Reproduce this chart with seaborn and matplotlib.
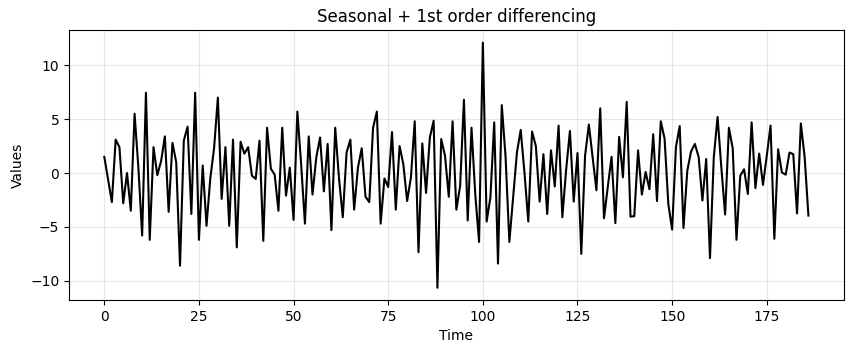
import numpy as np
import pandas as pd
import matplotlib
matplotlib.use("Agg")
import matplotlib.pyplot as plt
import seaborn as sns

# differenced series
values = [
    1.5, -0.6, -2.7, 3.1, 2.4, -2.8, 0.0, -3.5, 5.5, 0.5,
    -5.8, 7.45, -6.2, 2.4, -0.2, 1.1, 3.4, -3.6, 2.8, 1.0,
    -8.6, 3.0, 4.3, -3.8, 7.45, -6.2, 0.7, -4.9, -0.5, 2.3,
    7.0, -2.4, 2.4, -4.9, 3.1, -6.9, 2.9, 1.8, 2.4, -0.25,
    -0.55, 3.0, -6.3, 4.2, 0.4, -0.15, -3.5, 4.2, -2.1, 0.5,
    -4.35, 5.7, 0.8, -4.7, 3.4, -2.0, 1.45, 3.3, -1.7, 2.7,
    -5.3, 4.2, -0.5, -4.1, 1.9, 3.1, -3.4, 0.5, 2.3, -2.2,
    -2.7, 4.2, 5.7, -4.7, -0.5, -1.3, 3.8, -3.4, 2.5, 0.8,
    -2.6, -0.4, 4.8, -7.35, 2.75, -1.85, 3.3, 4.85, -10.65, 3.15,
    1.6, -2.2, 4.8, -3.4, -1.2, 6.8, -4.4, 4.2, -2.0, -6.4,
    12.1, -4.5, -2.25, 4.7, -8.4, 6.3, 1.5, -6.4, -2.25, 1.9,
    4.0, 0.0, -4.5, 3.85, 2.5, -2.65, 1.75, -3.8, 2.1, -1.25,
    4.4, -4.1, 0.3, 3.9, -2.65, 1.85, -7.5, 1.6, 4.5, 1.45,
    -1.6, 6.0, -4.2, -1.3, 1.5, -4.65, 3.35, -0.4, 6.6, -4.05,
    -4.0, 2.1, -2.0, 0.1, -1.5, 3.6, -2.6, 4.8, 3.2, -2.9,
    -5.25, 2.4, 4.35, -5.1, 0.2, 2.0, 2.7, 1.5, -2.55, 1.3,
    -7.9, 1.45, 5.2, 0.5, -3.85, 4.2, 2.3, -6.2, -0.25, 0.35,
    -1.95, 4.7, -1.4, 1.8, -1.1, 1.6, 4.4, -6.1, 2.2, 0.05,
    -0.15, 1.9, 1.75, -3.75, 4.6, 1.5, -3.95,
]
time = np.arange(len(values))

df = pd.DataFrame({"Time": time, "Values": values})

fig, ax = plt.subplots(figsize=(8.53, 3.53), dpi=100)
fig.subplots_adjust(left=0.081, right=0.989, top=0.914, bottom=0.15)

sns.lineplot(data=df, x="Time", y="Values", color="black", linewidth=1.5, ax=ax)

ax.set_title("Seasonal + 1st order differencing")
ax.set_xlabel("Time")
ax.set_ylabel("Values")
ax.grid(True, alpha=0.3)

plt.savefig("out.png", dpi=100)
